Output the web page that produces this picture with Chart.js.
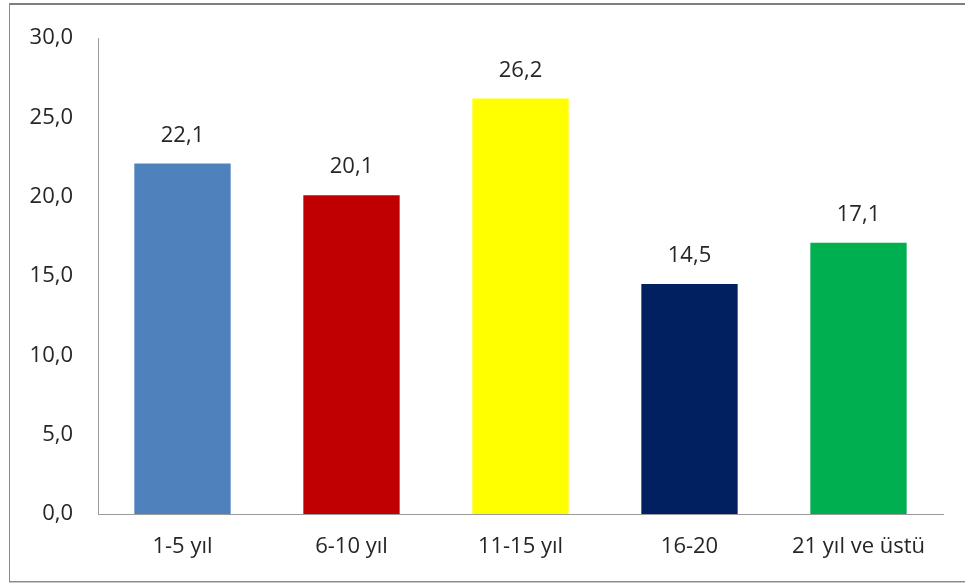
<!DOCTYPE html>
<html>
<head>
<meta charset="utf-8">
<script src="https://cdn.jsdelivr.net/npm/chart.js@4"></script>
<style>
  html, body { margin: 0; padding: 0; background: #fff; }
  .wrap { position: relative; width: 965px; height: 584px; }
  .frame {
    position: absolute; left: 9px; top: 3px; width: 980px; height: 576px;
    border-top: 2px solid #7f7f7f; border-left: 1px solid #8a8a8a; border-bottom: 1px solid #8a8a8a;
    box-shadow: 0 1px 0 #c8c8c8; pointer-events: none;
  }
</style>
</head>
<body>
<div class="wrap">
  <canvas id="myChart" width="965" height="584"></canvas>
  <div class="frame"></div>
</div>
<script>
const categories = ['1-5 yıl', '6-10 yıl', '11-15 yıl', '16-20', '21 yıl ve üstü'];
const values = [22.1, 20.1, 26.2, 14.5, 17.1];
const barColors = ['#4F81BD', '#C00000', '#FFFF00', '#002060', '#00B050'];
const yTicks = [0, 5, 10, 15, 20, 25, 30];

const textColor = '#262626';
const fontFamily = '"Open Sans", sans-serif';

const fmt = v => v.toFixed(1).replace('.', ',');

// writes each bar's value just above it
const valueLabels = {
    id: 'valueLabels',
    afterDatasetsDraw(chart) {
        const ctx = chart.ctx;
        const meta = chart.getDatasetMeta(0);
        ctx.save();
        ctx.font = '22px ' + fontFamily;
        ctx.fillStyle = textColor;
        ctx.textAlign = 'center';
        ctx.textBaseline = 'middle';
        meta.data.forEach((bar, i) => {
            ctx.fillText(fmt(values[i]), bar.x, bar.y - 28);
        });
        ctx.restore();
    }
};

const ctx = document.getElementById('myChart');
const chart = new Chart(ctx, {
    type: 'bar',
    data: {
        labels: categories,
        datasets: [{
            data: values,
            backgroundColor: barColors,
            barPercentage: 0.57,
            categoryPercentage: 1
        }]
    },
    options: {
        responsive: false,
        animation: false,
        layout: { padding: { top: 35, right: 22, left: 0, bottom: 0 } },
        plugins: {
            legend: { display: false },
            tooltip: { enabled: false }
        },
        scales: {
            x: {
                grid: { display: false, drawTicks: false },
                border: { color: '#9a9a9a', width: 1 },
                ticks: { color: textColor, font: { family: fontFamily, size: 22 }, padding: 20 },
                afterFit: scale => { scale.height = 70; }
            },
            y: {
                min: 0,
                max: 30,
                grid: { display: false, drawTicks: false },
                border: { color: '#9a9a9a', width: 1 },
                afterBuildTicks: scale => { scale.ticks = yTicks.map(v => ({ value: v })); },
                ticks: {
                    color: textColor,
                    font: { family: fontFamily, size: 22 },
                    padding: 25,
                    callback: v => fmt(v)
                },
                afterFit: scale => { scale.width = 98; }
            }
        }
    },
    plugins: [valueLabels]
});
</script>
</body>
</html>
